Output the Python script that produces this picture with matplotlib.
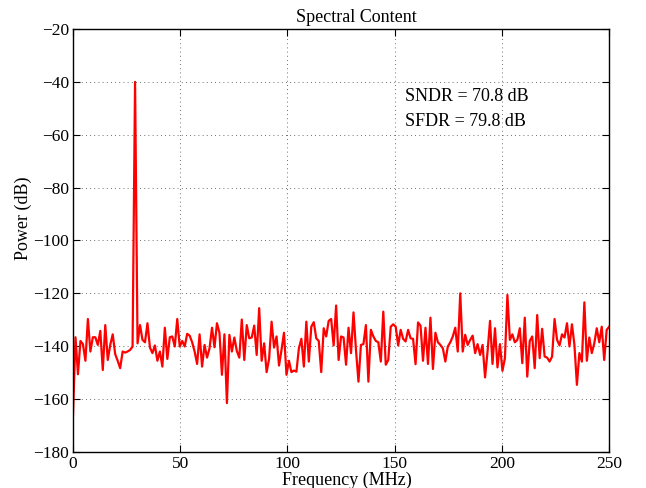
import numpy as np
import matplotlib
matplotlib.use('Agg')
import matplotlib.pyplot as plt

# Spectrum values (dB), one per FFT bin from 0 to 250 MHz
power_db = [
    -166, -136.6, -150.6, -138, -139.2, -145.5, -129.7, -142, -136.6, -136.6,
    -139.5, -134.2, -149, -132, -145.2, -139.5, -135.5, -143, -145.5, -148.3,
    -142, -142.4, -142, -141.4, -140.1, -40, -138.9, -132, -137.6, -138.5,
    -131.3, -140.5, -142.6, -139.7, -145.5, -142,
    -147.7, -133, -144.8, -136.6, -136.3, -140.1, -129.7, -140.1, -138, -140.1,
    -135.3, -136, -138.5, -142, -146.7, -135.5, -147.7, -139.5, -144.3, -140.8,
    -133, -140.4, -131.3, -134.9, -150.8, -135.5, -161.5, -135.7, -142, -136.7,
    -141.8, -144.3, -129.9, -145.2, -132,
    -137, -136.7, -132.2, -143.3, -125.6, -145.5, -138.9, -149.8, -144.8, -130.7,
    -140.5, -136.3, -147.3, -141.4, -134.9, -150.8, -145.5, -149.8, -149.2, -149.6,
    -140.8, -137.2, -147.7, -130.7, -145.8, -132.6, -130.9, -137, -138, -149.8,
    -133.2, -136.3, -130.4, -129.7, -139.7, -124.6,
    -145.2, -136.3, -136.7, -147, -133, -142.6, -127.2, -141.4, -153.4, -139.5,
    -139.2, -132, -153.4, -133.8, -136.3, -138, -138.5, -145.8, -126.9, -147,
    -145.2, -132.6, -131.7, -132.6, -139.7, -133.8, -137.2, -138.2, -133.8, -137,
    -137.2, -146.8, -131, -132.2, -145.5,
    -133, -146.7, -129.2, -148.6, -134.9, -138.5, -139.5, -140.8, -145.8, -140.1,
    -138.5, -136.3, -133, -142, -120, -142, -135.7, -139.5, -137.6, -136,
    -142.6, -139.2, -143.3, -139.5, -151.8, -142, -130.4, -146.7, -133.2, -148,
    -139.2, -149.3, -144.5, -120.6, -137.6,
    -135.5, -138.5, -137.6, -133.2, -146.4, -129.2, -151.5, -138, -136.3, -148.3,
    -128.2, -144.5, -133.4, -143.9, -144.3, -145.8, -143.9, -129.7, -137.6, -139.7,
    -135.5, -136.7, -131.3, -140.1, -131.7, -139.5, -154.6, -142.6, -145.8, -123.4,
    -145.5, -136.7, -142.6, -138.9, -133.2, -138.5, -132.6, -145.2, -133.8, -132.6,
]

f_max = 250.0  # MHz, Nyquist
x_ticks = [0, 50, 100, 150, 200, 250]
y_ticks = [-180, -160, -140, -120, -100, -80, -60, -40, -20]
metrics_text = ['SNDR = 70.8 dB', 'SFDR = 79.8 dB']
metrics_y = [-45.5, -55]

freq = np.linspace(0, f_max, len(power_db))

plt.rcParams['font.family'] = ['Liberation Serif', 'DejaVu Serif']
plt.rcParams['font.size'] = 13
plt.rcParams['axes.unicode_minus'] = True

fig = plt.figure(figsize=(6.46, 4.88), dpi=100)
ax = fig.add_axes([0.113, 0.0738, 0.830, 0.8668])

ax.plot(freq, power_db, color='#ff0000', linewidth=1.6)

ax.set_xlim(0, f_max)
ax.set_ylim(-180, -20)
ax.set_xticks(x_ticks)
ax.set_yticks(y_ticks)
ax.grid(True, color='0.25', linestyle=(0, (1, 4)), linewidth=0.6)
ax.tick_params(direction='in', top=True, right=True, length=5, width=0.8,
               pad=3, labelsize=12.5)
for spine in ax.spines.values():
    spine.set_linewidth(1.0)

# title and labels sit a bit off the axes centre in the original
ax.set_title('Spectral Content', fontsize=13, pad=5, x=0.528)
ax.set_xlabel('Frequency (MHz)', fontsize=13, labelpad=0, x=0.511)
ax.set_ylabel('Power (dB)', fontsize=13, labelpad=1, y=0.553)

for txt, yv in zip(metrics_text, metrics_y):
    ax.text(155, yv, txt, fontsize=13, va='center', ha='left')

fig.savefig('out.png', dpi=100)
